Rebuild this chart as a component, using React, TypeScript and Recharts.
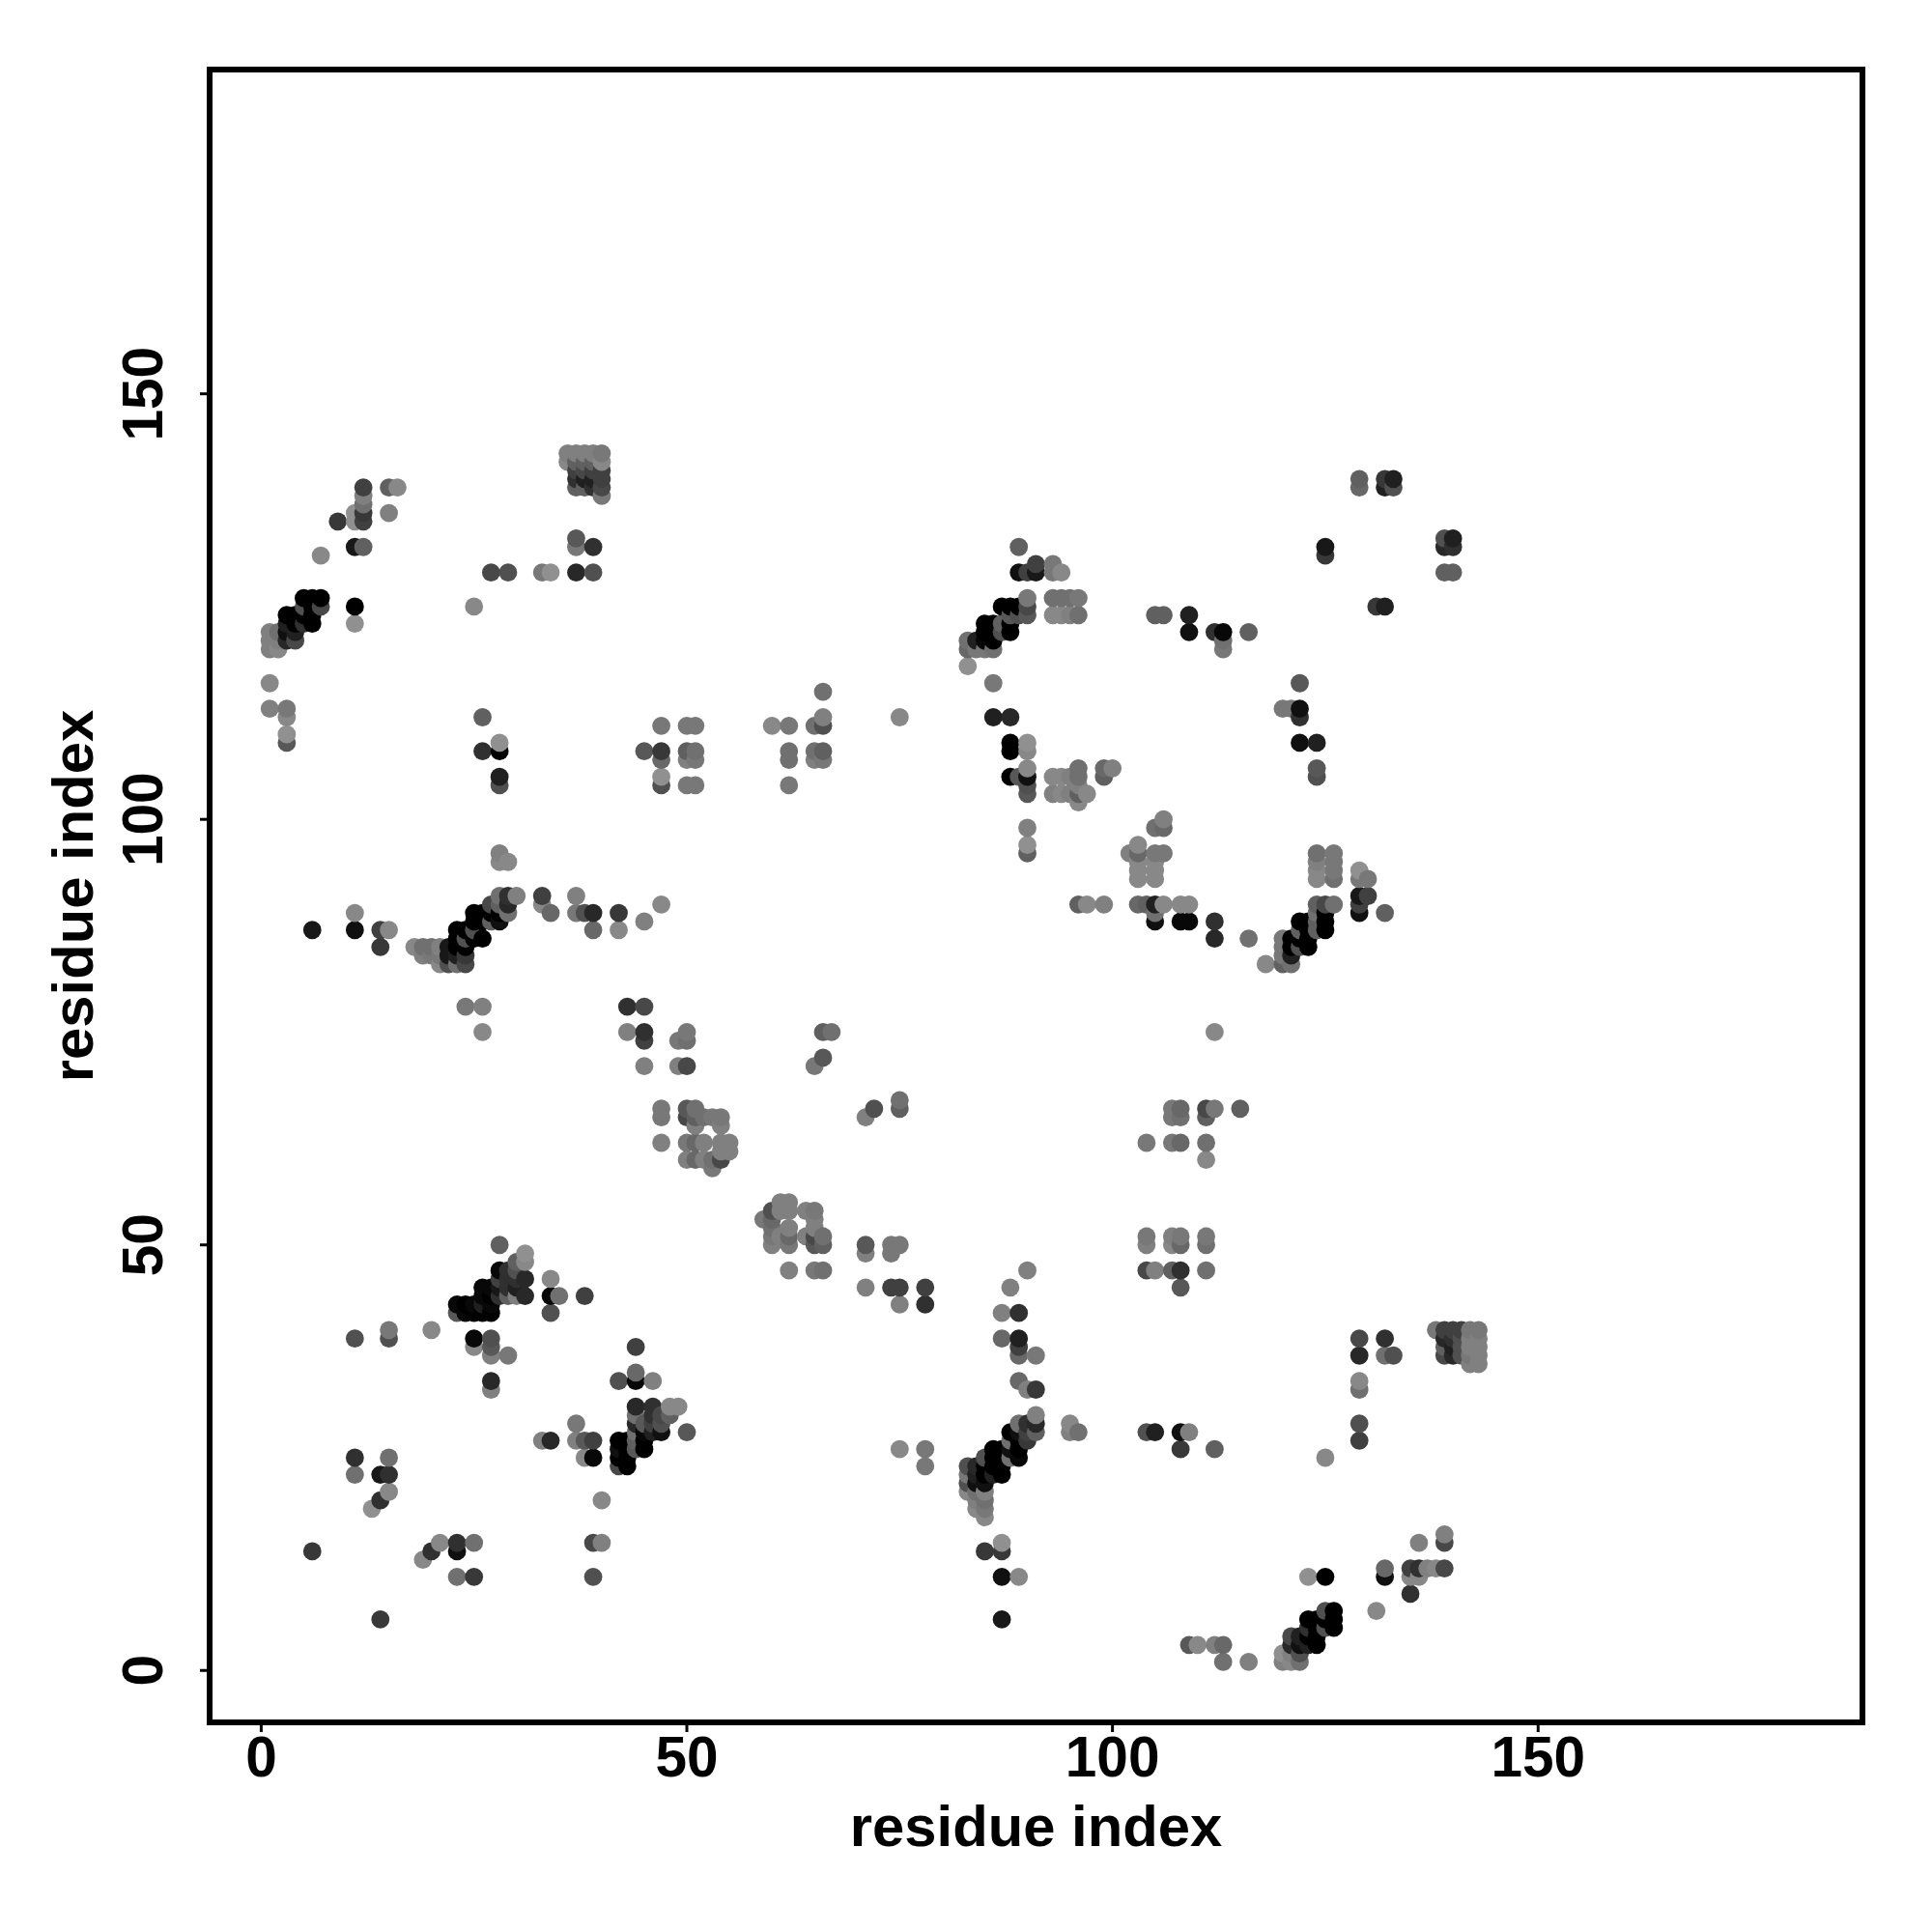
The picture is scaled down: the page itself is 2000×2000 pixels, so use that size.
import React from 'react';
import { ScatterChart, Scatter, XAxis, YAxis, ReferenceArea } from 'recharts';

// each contact: [residue i, residue j, grey level]  (level 0 = strongest, 9 = weakest)
type Contact = [number, number, number];

const tickValues = [0, 50, 100, 150];
const axisTitle = 'residue index';

const bandA: Contact[] = [
  [1,120,8],[1,121,8],[1,122,8],[2,120,8.5],[2,121,8],[2,122,7],[3,121,2.5],[3,122,1],[3,123,2],[3,124,0],
  [4,121,4.5],[4,122,2],[4,123,0],[4,124,0],[5,123,3],[5,124,0],[5,125,5],[5,126,0],[6,123,0],[6,124,0],
  [6,125,0],[6,126,0],[7,125,4.5],[7,126,0],
];
const topLeft: Contact[] = [
  [12,139,4],[12,138,8],[12,137,7],[12,136,3.5],[12,135,4],[11,136,9],[11,135,9],[9,135,3.5],[15,136,8],[15,139,6],
  [16,139,8.5],[11,132,1.5],[12,132,6],[7,131,8.5],[25,125,8.5],[11,125,0],[11,123,9],[1,116,8.5],[1,113,8],
  [3,113,7.5],[3,112,8.5],[3,110,9],[3,109,5.5],
];
const topBlock: Contact[] = [
  [36,143,8],[37,143,8],[38,143,8],[39,143,8],[40,143,7.5],[36,142,8.5],[37,142,6],[38,142,6],[39,142,6],[40,142,8.5],
  [37,141,4],[38,141,4.5],[39,141,4],[40,141,4],[37,140,3],[38,140,2],[39,140,2],[40,140,4],[37,139,6],[38,139,6],
  [39,139,3],[40,139,4.5],[40,138,7.5],[37,133,5.5],[37,132,7.5],[39,132,3],[27,129,4.5],[29,129,5],[33,129,7.5],
  [34,129,9],[37,129,2.5],[39,129,5],
];
const midColumns: Contact[] = [
  [26,112,6],[28,109,9],[26,108,3],[28,108,0],[28,105,2],[28,104,5],[47,111,7.5],[45,108,5.5],[47,108,3.5],[47,107,6.5],
  [47,105,9],[47,104,5],[50,111,7.5],[51,111,7.5],[50,108,6],[51,108,7],[50,107,8],[51,107,7.5],[50,104,7.5],[51,104,7.5],
  [60,111,8.5],[62,111,7.5],[62,108,7],[62,107,7],[62,104,7.5],[65,111,7],[66,111,5],[66,112,8],[66,115,7],[65,108,7],
  [66,108,6],[65,107,8],[66,107,7.5],[75,112,8.5],
];
const bandB: Contact[] = [
  [83,118,9],[83,120,6.5],[83,121,7],[84,120,7.5],[84,121,2],[85,120,7.5],[85,121,0.5],[85,122,0],[86,120,7],[86,121,0],
  [86,122,0],[86,123,0],[85,123,0],[87,122,5],[87,123,6],[87,125,0],[88,122,0],[88,123,0],[88,124,5.5],[88,125,0],
  [89,124,5],[89,125,0],[90,124,5.5],[90,125,4.5],[90,126,7.5],[86,116,7.5],[86,112,2],[88,112,2.5],[88,109,0],[88,108,0],
  [89,132,6],[89,129,1],[90,129,4],[91,129,1.5],[91,130,4],[93,130,7.5],[93,129,7.5],[94,129,8.5],
  [93,126,7],[94,126,7],[95,126,7],[96,126,7.5],[93,124,8.5],[94,124,8.5],[95,124,8],[96,124,7],
];
const midRight: Contact[] = [
  [90,109,9],[90,108,8.5],[90,106,8.5],[90,105,1],[88,105,0],[89,105,5.5],[90,104,5],[90,103,5.5],[90,99,8],[90,97,9],
  [90,96,6],[93,105,8.5],[94,105,8.5],[95,105,8],[96,106,7],[96,105,7],[99,106,6.5],[100,106,8],[99,105,6],
  [93,103,8],[94,103,8.5],[95,103,8],[96,104,8],[96,103,6],[97,103,8.5],[96,102,8.5],[96,90,6],[97,90,8.5],[99,90,8],
  [124,106,5.5],[124,105,5],[106,100,8],[105,99,7],[106,99,6.5],[103,97,8.5],[102,96,8],[103,96,6.5],[105,96,7.5],
  [106,96,7.5],[103,95,8.5],[105,95,8.5],[103,94,8.5],[105,94,8.5],[103,93,8.5],[105,93,8.5],
];
const rightU: Contact[] = [
  [124,96,7],[126,96,7.5],[124,95,8],[126,95,7.5],[124,94,8.5],[126,94,7.5],[124,93,8.5],[126,93,7],[129,94,9],[129,93,7.5],
  [130,93,7.5],[103,90,6.5],[104,90,6],[105,90,2],[106,90,8.5],[108,90,8.5],[109,90,8.5],[124,90,6],[125,90,4.5],[126,90,7],
  [129,91,1.5],[130,91,4],[129,90,4],[129,89,1],[132,89,6],[105,89,7],[105,88,1],[108,88,0.5],[109,88,0.5],[112,88,3],
  [112,86,2.5],[116,86,7],[125,89,0],[125,88,0],[125,87,0],[124,89,7],[124,88,6],[124,87,6],[123,88,0],[122,88,0],
  [123,87,0],[122,87,6],[121,86,0],[120,86,7.5],[123,86,0],[122,86,0],[123,85,0],[122,85,5],[121,85,0],[120,85,7.5],
  [121,84,2],[120,84,7.5],[118,83,8.5],[120,83,6],[121,83,7],[112,75,8.5],
];
const topRight: Contact[] = [
  [129,140,6],[129,139,6.5],[132,140,3.5],[133,140,2],[132,139,2],[133,139,5],[125,132,1.5],[125,131,3.5],[139,133,5],
  [140,133,2],[139,132,2.5],[140,132,3],[139,129,6],[140,129,6],[131,125,3.5],[132,125,2],[105,124,6],[106,124,6],
  [109,124,2],[109,122,1],[112,122,3],[113,122,0.5],[116,122,6],[113,121,7],[113,120,7.5],[122,116,5.5],[120,113,7.5],
  [121,113,7.5],[122,113,1],[122,112,3],[122,109,1],[124,109,2],
];
const bandC: Contact[] = [
  [28,96,8],[28,95,8.5],[29,95,8.5],[28,91,7],[29,91,3],[30,91,8],[27,90,4.5],[28,90,6],[29,90,2.5],[29,89,7],[28,89,0],
  [28,88,1],[27,89,0],[25,89,0],[26,89,0],[27,88,6],[25,88,0],[26,88,0],[23,87,0],[24,87,0],[25,87,5],[26,86,0],[25,86,0],
  [24,86,5],[23,86,0],[24,85,0],[23,85,0],[22,85,1.5],[21,85,8],[20,85,7],[19,85,7],[18,85,8.5],[19,84,8],[20,84,7.5],
  [21,84,7.5],[22,84,1.5],[23,84,2],[24,84,3.5],[21,83,8.5],[22,83,5],[23,83,7],[24,83,4.5],
];
const row87: Contact[] = [
  [33,91,4],[33,90,8.5],[34,89,6.5],[37,91,8],[37,89,7.5],[38,89,5],[39,89,2.5],[39,87,6.5],[42,89,3.5],[42,87,8.5],
  [45,88,8],[47,90,8.5],[11,89,8.5],[11,87,1],[6,87,1.5],[14,87,4],[15,87,8.5],[14,85,3.5],[24,78,7.5],[26,78,8],[26,75,8.5],
  [43,78,3],[45,78,4.5],[43,75,8],[45,75,3],[45,74,4],[45,71,8],[49,71,8],[50,75,7.5],[49,74,7.5],[50,74,7],[50,71,4.5],
  [66,75,6],[67,75,7],[66,72,5.5],[65,71,7.5],
];
const centreUpper: Contact[] = [
  [50,66,5.5],[51,66,7],[50,65,4.5],[51,65,6],[52,65,7],[53,65,7.5],[54,65,7.5],[51,64,8],[54,64,8],[50,62,7.5],[51,62,6.5],
  [52,62,8],[54,62,8],[55,62,8],[54,61,8],[55,61,8],[50,60,8],[51,60,6.5],[52,60,8],[53,60,7],[54,60,4.5],[53,59,7.5],
  [47,66,7.5],[47,65,7.5],[47,62,8],[71,65,8],[72,66,5],[75,67,7],[75,66,6],
];
const centreLower: Contact[] = [
  [61,55,8],[62,55,8],[61,54,8],[62,54,8],[60,54,5],[59,53,7.5],[60,53,6.5],[60,52,7],[60,51,7.5],[62,52,8],[62,51,6.5],
  [61,51,8],[60,50,8],[62,50,7.5],[64,54,8],[65,54,7.5],[65,53,8],[65,52,8],[64,51,8],[65,51,4.5],[65,50,5.5],[66,51,7],
  [66,50,6],[62,47,8],[65,47,7.5],[66,47,7],[71,50,5.5],[71,49,8],[74,50,7.5],[75,50,7.5],[74,49,7.5],[71,45,8],[74,45,4],
  [75,45,4],[78,45,4],[75,43,8],[78,43,3],
];
const rightMiddle: Contact[] = [
  [107,66,7.5],[108,66,6.5],[107,65,7.5],[108,65,7],[111,66,4.5],[112,66,7.5],[111,65,6],[115,66,6],[104,62,7.5],[107,62,7.5],
  [108,62,6.5],[111,62,7],[111,60,8.5],[104,51,7.5],[107,51,8],[108,51,7.5],[111,51,7.5],[104,50,8],[107,50,8.5],[108,50,6.5],
  [111,50,7],[104,47,4.5],[105,47,8],[107,47,6],[108,47,3],[111,47,7],[108,45,5.5],
];
const rightBlock: Contact[] = [
  [129,39,4.5],[132,39,3],[129,37,2.5],[132,37,7],[133,37,5],[129,34,8.5],[129,33,7],[138,40,7.5],[139,40,4],[140,40,4],
  [141,40,4],[142,40,7.5],[143,40,7.5],[139,39,2.5],[140,39,3],[141,39,5],[142,39,8],[143,39,8],[139,38,6],[140,38,2],
  [141,38,5],[142,38,8],[143,38,8],[139,37,4.5],[140,37,2.5],[141,37,5],[142,37,7.5],[143,37,8],[142,36,8],[143,36,8],
];
const lowerBandD: Contact[] = [
  [28,50,6],[31,49,9],[30,48,6],[31,48,8.5],[28,47,0.5],[29,47,3],[30,47,5],[31,46,2.5],[30,46,3],[29,46,3],[28,46,4],
  [34,46,8.5],[26,45,0.5],[27,45,0.5],[28,45,1.5],[29,45,3],[30,45,2],[31,44,2.5],[30,44,8],[29,44,6],[28,44,3],[27,44,0],
  [26,44,0.5],[34,44,0.5],[35,44,7],[38,44,4],[24,43,0],[25,43,0.5],[26,43,2],[27,43,0.5],[23,43,0.5],[34,42,5],[23,42,5.5],
  [24,42,0.5],[25,42,0],[26,42,0],[27,42,0],[25,39,0.5],[25,38,8.5],[27,39,5],[27,38,5.5],[27,37,8],[29,37,7.5],[27,34,2.5],
  [27,33,8],[11,39,5],[15,40,7.5],[15,39,5],[20,40,8.5],
];
const lowerBandE: Contact[] = [
  [44,38,4],[44,35,6.5],[44,34,0.5],[42,34,5],[46,34,8],[44,31,2.5],[46,31,3],[48,31,8.5],[49,31,8.5],[44,30,7],[46,30,3],
  [47,30,4.5],[48,30,6],[44,29,2.5],[45,29,5.5],[46,29,4],[47,29,5],[37,29,7.5],[44,28,7],[45,28,0.5],[46,28,2],[47,28,1],
  [50,28,5.5],[33,27,8],[34,27,2.5],[37,27,8],[38,27,5.5],[39,27,4],[42,27,0],[43,27,0],[44,27,6],[45,27,0],[42,26,1],[43,26,0],
  [44,26,5.5],[45,26,0],[38,25,8.5],[39,25,0.5],[42,25,0],[43,25,0],[42,24,4.5],[43,24,0],
];
const lowerLeft: Contact[] = [
  [11,25,3],[15,25,7],[11,23,7],[14,23,1.5],[15,23,3],[15,21,8.5],[14,20,3],[13,19,9],[40,20,8.5],[39,15,4.5],[40,15,8],
  [21,15,8.5],[23,15,3],[25,15,7],[20,14,3],[23,14,1],[19,13,8.5],[6,14,3.5],[23,11,7],[25,11,3.5],[39,11,5],[14,6,3.5],
];
const lowerBandF: Contact[] = [
  [91,33,3.5],[90,33,8],[89,34,6.5],[89,37,6.5],[91,37,7.5],[89,38,4],[89,39,2],[87,39,6.5],[87,42,8],[89,42,3],[88,45,8],
  [90,47,8],[91,30,8],[91,29,2.5],[91,28,6],[89,29,7],[90,29,3],[88,28,0],[89,28,1],[90,28,4],[88,27,7],[89,27,0],[90,27,3.5],
  [86,26,0],[87,26,0],[88,26,1],[89,26,0],[85,25,5],[86,25,0],[87,25,0],[88,25,7],[89,25,0.5],[83,24,5],[84,24,2.5],[85,24,0],
  [86,24,0],[87,24,0],[83,23,7.5],[84,23,2],[85,23,0],[86,23,2],[87,23,0],[83,22,5],[84,22,1],[85,22,1],[83,21,8.5],[84,21,7],
  [85,21,8],[84,20,8],[85,20,7],[84,19,8.5],[85,19,7.5],[85,18,8.5],[75,26,8.5],[78,26,7.5],[78,24,7.5],[95,29,8.5],[95,28,8],
  [96,28,7],[85,14,3.5],[87,15,9],[87,14,3.5],[87,11,1],[89,11,8.5],[87,6,1.5],
];
const lowerRight: Contact[] = [
  [104,28,5],[105,28,2],[108,28,1],[109,28,8],[108,26,3.5],[112,26,6],[129,29,5],[129,27,4],[125,25,8.5],[136,15,8],[139,16,8],
  [139,15,4.5],[132,12,6.5],[132,11,1],[135,12,4],[136,12,3],[137,12,8],[138,12,8.5],[139,12,4.5],[135,11,8.5],[136,11,8.5],
  [135,9,3],[131,7,8.5],[123,11,9],[125,11,0],[109,3,5.5],[110,3,8.5],[112,3,8],[113,3,6.5],[113,1,7],[116,1,8],
];
const bandG: Contact[] = [
  [120,1,8],[120,2,9],[121,1,8.5],[121,2,8],[122,1,7],[122,2,5],[121,3,2.5],[122,3,1],[123,3,2],[124,3,0],[121,4,4.5],[122,4,2],
  [123,4,0],[124,4,0],[123,5,3],[124,5,0],[125,5,5],[126,5,0],[123,6,0],[124,6,0],[125,6,0],[126,6,0],[125,7,5],[126,7,0],
];

// The plot draws contacts in residue order: by i, then by j.
const contacts = [
  ...bandA, ...topLeft, ...topBlock, ...midColumns, ...bandB, ...midRight, ...rightU, ...topRight, ...bandC, ...row87,
  ...centreUpper, ...centreLower, ...rightMiddle, ...rightBlock, ...lowerBandD, ...lowerBandE, ...lowerLeft, ...lowerBandF,
  ...lowerRight, ...bandG,
]
  .map(([x, y, level]) => ({ x, y, level }))
  .sort((a, b) => a.x - b.x || a.y - b.y);

const FONT = '"Liberation Sans", Arial, sans-serif';
const DOT_RADIUS = 9.4;
const TICK_FONT = 58.5;
const TITLE_FONT = 59.8;

const grey = (level: number) => {
  const v = Math.round(level * 16);
  return `rgb(${v},${v},${v})`;
};

const Dot = (p: any) => <circle cx={p.cx} cy={p.cy} r={DOT_RADIUS} fill={grey(p.payload.level)} />;

const XTick = (p: any) => (
  <text x={p.x} y={p.y + 44} textAnchor="middle" fontFamily={FONT} fontWeight="bold" fontSize={TICK_FONT} fill="#000">
    {p.payload.value}
  </text>
);
const YTick = (p: any) => (
  <text
    x={p.x - 37}
    y={p.y}
    transform={`rotate(-90 ${p.x - 37} ${p.y})`}
    textAnchor="middle"
    fontFamily={FONT}
    fontWeight="bold"
    fontSize={TICK_FONT}
    fill="#000"
  >
    {p.payload.value}
  </text>
);
const XTitle = (p: any) => (
  <text
    x={p.viewBox.x + p.viewBox.width / 2}
    y={1911}
    textAnchor="middle"
    fontFamily={FONT}
    fontWeight="bold"
    fontSize={TITLE_FONT}
    fill="#000"
  >
    {axisTitle}
  </text>
);
const YTitle = (p: any) => {
  const cy = p.viewBox.y + p.viewBox.height / 2;
  return (
    <text
      x={96}
      y={cy}
      transform={`rotate(-90 96 ${cy})`}
      textAnchor="middle"
      fontFamily={FONT}
      fontWeight="bold"
      fontSize={TITLE_FONT}
      fill="#000"
    >
      {axisTitle}
    </text>
  );
};

export default function App() {
  return (
    <div style={{ position: 'absolute', left: 0, top: 0, width: 2000, height: 2000, background: '#fff' }}>
      <ScatterChart width={2000} height={2000} margin={{ top: 72, right: 72, bottom: 0, left: 0 }}>
        <XAxis
          type="number"
          dataKey="x"
          domain={[-6.06, 188.1]}
          ticks={tickValues}
          height={217}
          axisLine={false}
          tickSize={10}
          tickLine={{ stroke: '#000', strokeWidth: 3 }}
          tick={<XTick />}
          label={<XTitle />}
          allowDataOverflow
        />
        <YAxis
          type="number"
          dataKey="y"
          domain={[-6.1, 188.1]}
          ticks={tickValues}
          width={217}
          axisLine={false}
          tickSize={10}
          tickLine={{ stroke: '#000', strokeWidth: 3 }}
          tick={<YTick />}
          label={<YTitle />}
          allowDataOverflow
        />
        <Scatter data={contacts} isAnimationActive={false} shape={<Dot />} />
        <ReferenceArea x1={-6.06} x2={188.1} y1={-6.1} y2={188.1} fill="none" stroke="#000" strokeWidth={6} ifOverflow="visible" />
      </ScatterChart>
    </div>
  );
}
